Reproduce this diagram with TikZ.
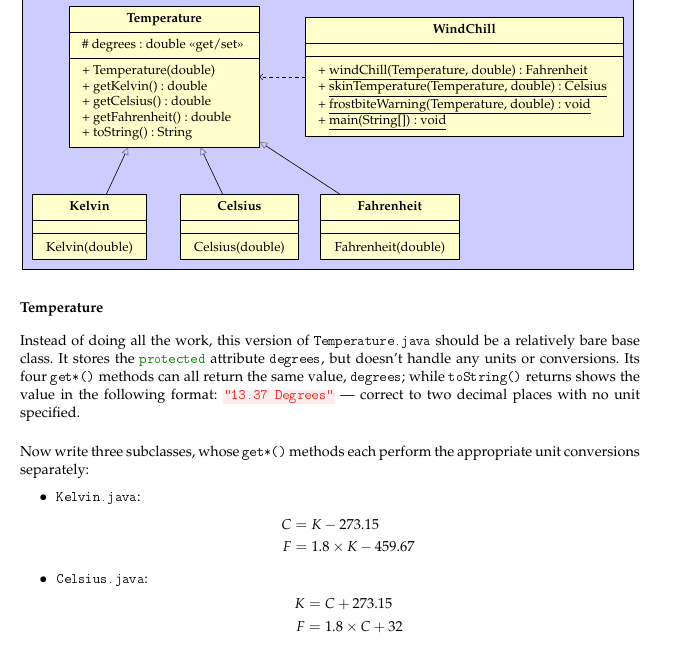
\documentclass[tikz,border=0pt]{standalone}
\usepackage[T1]{fontenc}
\usepackage{mathpazo}
\renewcommand{\ttdefault}{cmtt}
\usepackage{amsmath}
\usetikzlibrary{arrows.meta,calc}
\frenchspacing
\definecolor{bgblue}{RGB}{204,204,255}
\definecolor{boxyellow}{RGB}{255,255,204}
\definecolor{codegreen}{RGB}{0,128,0}
\definecolor{codered}{RGB}{238,34,34}
\definecolor{codepink}{RGB}{255,236,236}
\tikzset{
  umlbox/.style={draw=black, fill=boxyellow, line width=0.7pt, anchor=north west},
  sepline/.style={draw=black, line width=0.7pt},
  umltxt/.style={font=\fontsize{13}{15.5}\selectfont, anchor=base west},
  umlmid/.style={font=\fontsize{13}{15.5}\selectfont, anchor=base},
  umltitle/.style={font=\fontsize{13}{15.5}\selectfont\bfseries, anchor=base},
  inherit/.style={line width=0.6pt, -{Triangle[open,length=7.5pt,width=7pt,color=black!55,line width=0.6pt]}},
  depend/.style={line width=0.6pt, dashed, dash pattern=on 3.5pt off 3pt, -{Straight Barb[length=3pt,width=6pt]}},
  bodytxt/.style={font=\fontsize{14.4}{18}\selectfont\frenchspacing, anchor=base west},
  bodymath/.style={font=\fontsize{14.4}{18}\selectfont},
}
\begin{document}
\begin{tikzpicture}[x=1pt,y=-1pt, every node/.append style={inner sep=0pt, outer sep=0pt}]
\useasboundingbox (0,0) rectangle (690,645);
\clip (0,0) rectangle (690,645);
\fill[white] (0,0) rectangle (690,645);
% background panel
\draw[fill=bgblue, line width=0.7pt] (22.7,-5) rectangle (633.7,269.3);

% Temperature class
\node[umlbox, minimum width=190pt, minimum height=141.3pt] (temp) at (69.3,6) {};
\draw[sepline] (temp.west |- 0,32.3) -- (temp.east |- 0,32.3);
\draw[sepline] (temp.west |- 0,58.3) -- (temp.east |- 0,58.3);
\node[umltitle] (temptitle) at (164.3,22.5) {Temperature};
\node[umltxt] (tempattr) at (82,48.5) {\# degrees : double \guillemotleft get/set\guillemotright};
\node[umltxt] (tm1) at (82,74.5) {+ Temperature(double)};
\node[umltxt] (tm2) at (82,90) {+ getKelvin() : double};
\node[umltxt] (tm3) at (82,105.5) {+ getCelsius() : double};
\node[umltxt] (tm4) at (82,121) {+ getFahrenheit() : double};
\node[umltxt] (tm5) at (82,136.5) {+ toString() : String};

% WindChill class
\node[umlbox, minimum width=318.7pt, minimum height=119.4pt] (wind) at (305,17.3) {};
\draw[sepline] (wind.west |- 0,43.3) -- (wind.east |- 0,43.3);
\draw[sepline] (wind.west |- 0,56) -- (wind.east |- 0,56);
\node[umltitle] (windtitle) at (464.3,33.5) {WindChill};
\node[umltxt] (wm1) at (318,74) {+ \underline{windChill(Temperature, double) : Fahrenheit}};
\node[umltxt] (wm2) at (318,90.5) {+ \underline{skinTemperature(Temperature, double) : Celsius}};
\node[umltxt] (wm3) at (318,108) {+ \underline{frostbiteWarning(Temperature, double) : void}};
\node[umltxt] (wm4) at (318,124) {+ \underline{main(String[]) : void}};

% Subclasses
\node[umlbox, minimum width=114.4pt, minimum height=65pt] (kelvin) at (32.3,194.3) {};
\draw[sepline] (kelvin.west |- 0,220) -- (kelvin.east |- 0,220);
\draw[sepline] (kelvin.west |- 0,233.3) -- (kelvin.east |- 0,233.3);
\node[umltitle] (kelvintitle) at (89.5,210) {Kelvin};
\node[umlmid] (kelvinc) at (89.5,251) {Kelvin(double)};

\node[umlbox, minimum width=118.4pt, minimum height=65pt] (cels) at (180.3,194.3) {};
\draw[sepline] (cels.west |- 0,220) -- (cels.east |- 0,220);
\draw[sepline] (cels.west |- 0,233.3) -- (cels.east |- 0,233.3);
\node[umltitle] (celstitle) at (239.5,210) {Celsius};
\node[umlmid] (celsc) at (239.5,251) {Celsius(double)};

\node[umlbox, minimum width=138.3pt, minimum height=65pt] (fahr) at (320.7,194.3) {};
\draw[sepline] (fahr.west |- 0,220) -- (fahr.east |- 0,220);
\draw[sepline] (fahr.west |- 0,233.3) -- (fahr.east |- 0,233.3);
\node[umltitle] (fahrtitle) at (389.85,210) {Fahrenheit};
\node[umlmid] (fahrc) at (389.85,251) {Fahrenheit(double)};

% connectors
\draw[inherit] ($(kelvin.north west)!0.647!(kelvin.north east)$) -- ($(temp.south west)!0.31!(temp.south east)$);
\draw[inherit] ($(cels.north west)!0.358!(cels.north east)$) -- ($(temp.south west)!0.69!(temp.south east)$);
\draw[inherit] ($(fahr.north west)!0.14!(fahr.north east)$) -- ($(temp.south east)+(0.5,-5.5)$);
\draw[depend] (wind.west) -- (wind.west -| temp.east);

% text below
\node[bodytxt, font=\fontsize{14.4}{18}\selectfont\bfseries] (head) at (20,312.5) {Temperature};
\node[bodytxt] (p1) at (20,345.5) {\makebox[620pt][s]{Instead of doing all the work, this version of \texttt{Temperature.java} should be a relatively bare base}};
\node[bodytxt] (p2) at (20,363.5) {\makebox[620pt][s]{class. It stores the \textcolor{codegreen}{\texttt{protected}} attribute \texttt{degrees}, but doesn't handle any units or conversions. Its}};
\node[bodytxt] (p3) at (20,381.5) {\makebox[620pt][s]{four \texttt{get*()} methods can all return the same value, \texttt{degrees}; while \texttt{toString()} returns shows the}};
\node[bodytxt] (p4) at (20,399.5) {\makebox[620pt][s]{value in the following format: {\setlength{\fboxsep}{1.2pt}\colorbox{codepink}{\textcolor{codered}{\ttfamily"13.37 Degrees"}}} --- correct to two decimal places with no unit}};
\node[bodytxt] (p5) at (20,417.5) {specified.};

\node[bodytxt] (q1) at (20,456) {\makebox[620pt][s]{Now write three subclasses, whose \texttt{get*()} methods each perform the appropriate unit conversions}};
\node[bodytxt] (q2) at (20,474) {separately:};

\node[bodytxt, anchor=base] (b1) at (43.3,501.5) {$\bullet$};
\node[bodytxt] (i1) at (56.7,501.5) {\texttt{Kelvin.java}:};
\node[bodytxt, anchor=base] (b2) at (43.3,583) {$\bullet$};
\node[bodytxt] (i2) at (56.7,583) {\texttt{Celsius.java}:};

\node[bodymath, anchor=base east] (e1l) at (291.5,529) {$C$};
\node[bodymath, anchor=base west] (e1r) at (291.5,529) {${}=K-273.15$};
\node[bodymath, anchor=base east] (e2l) at (291.5,551) {$F$};
\node[bodymath, anchor=base west] (e2r) at (291.5,551) {${}=1.8\times K-459.67$};
\node[bodymath, anchor=base east] (e3l) at (305,608.5) {$K$};
\node[bodymath, anchor=base west] (e3r) at (305,608.5) {${}=C+273.15$};
\node[bodymath, anchor=base east] (e4l) at (305,631) {$F$};
\node[bodymath, anchor=base west] (e4r) at (305,631) {${}=1.8\times C+32$};
\end{tikzpicture}
\end{document}
